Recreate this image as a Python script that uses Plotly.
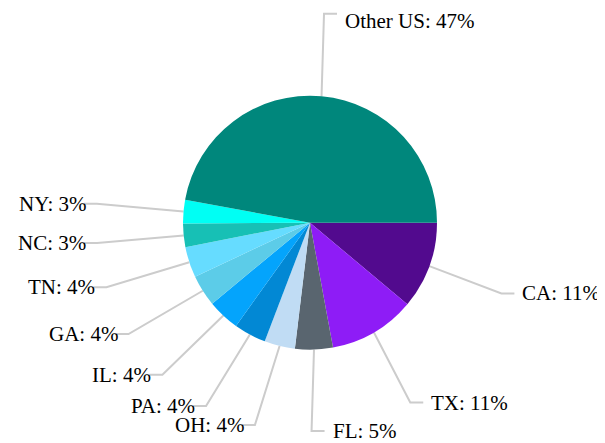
import math
import plotly.graph_objects as go

# share of total, going clockwise from 3 o'clock
states = ["CA", "TX", "FL", "OH", "PA", "IL", "GA", "TN", "NC", "NY", "Other US"]
shares = [11.1, 11.0, 4.8, 3.9, 4.1, 4.1, 4.0, 3.9, 3.0, 3.0, 47.1]
colors = ["#520a8e", "#8e1cf6", "#59656f", "#c0dcf4", "#0288d4", "#04a4fc",
          "#5ccce8", "#66dcff", "#17c0b5", "#00fff4", "#00877c"]

# the page body has an 8px margin, so the figure is drawn 8px in from the corner
OFF = 8
W, H = 605 - OFF, 443 - OFF
CX, CY, R = 310 - OFF, 222.7 - OFF, 127     # pie centre / radius in px
LX, LY, LR = 305 - OFF, 222 - OFF, 209      # ring the label elbows sit on
ELBOW = 13
TOP_LIMIT = 21 - OFF                         # keep labels inside the top edge
LINE_COL = "#cccccc"
FONT = dict(family="Liberation Serif, Times New Roman, serif", size=21, color="#000000")

fig = go.Figure()
fig.add_trace(go.Pie(
    labels=states, values=shares, sort=False, direction="clockwise", rotation=90,
    marker=dict(colors=colors, line=dict(width=0)), textinfo="none", hoverinfo="label+percent",
    domain=dict(x=[(CX - R) / W, (CX + R) / W], y=[(H - CY - R) / H, (H - CY + R) / H]),
))

total = sum(shares)
start = 0.0
annotations = []
for name, v in zip(states, shares):
    span = v / total * 360
    mid = math.radians(start + span / 2)
    start += span
    c, s = math.cos(mid), math.sin(mid)
    x0, y0 = CX + R * c, CY + R * s
    x1, y1 = LX + LR * c, LY + LR * s
    side = 1 if c >= 0 else -1
    x2 = x1 + side * ELBOW
    fig.add_trace(go.Scatter(x=[x0, x1, x2], y=[y0, y1, y1], mode="lines",
                             line=dict(color=LINE_COL, width=2), hoverinfo="skip",
                             xaxis="x", yaxis="y"))
    annotations.append(dict(
        x=x2 + (7 if side > 0 else 3), y=max(y1, TOP_LIMIT), xref="x", yref="y",
        text=f"{name}: {round(v / total * 100)}%", showarrow=False, borderpad=0,
        xanchor="left" if side > 0 else "right", yanchor="middle", font=FONT,
    ))

fig.update_layout(
    width=W, height=H, margin=dict(l=0, r=0, t=0, b=0),
    paper_bgcolor="#ffffff", plot_bgcolor="rgba(0,0,0,0)",
    showlegend=False, annotations=annotations,
    xaxis=dict(range=[0, W], visible=False, fixedrange=True),
    yaxis=dict(range=[H, 0], visible=False, fixedrange=True),
)

fig.write_html("out.html")
